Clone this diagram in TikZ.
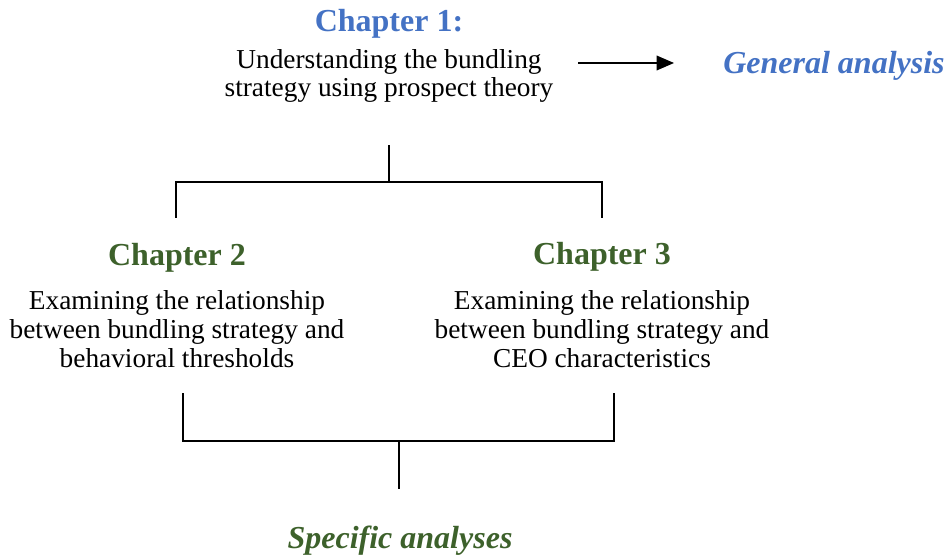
\documentclass[tikz,border=0pt]{standalone}
\usepackage{fontspec}
\setmainfont{Liberation Serif}
\usetikzlibrary{arrows.meta}
\definecolor{chblue}{HTML}{4472C4}
\definecolor{chgreen}{HTML}{3D612B}
\begin{document}
\begin{tikzpicture}[x=0.75pt,y=-0.75pt,
  head/.style={font=\fontsize{24}{28}\selectfont\bfseries, inner sep=0pt, anchor=base},
  body/.style={font=\fontsize{20.5}{21.6}\selectfont, align=center, inner sep=0pt, anchor=base},
  tag/.style={font=\fontsize{24}{28}\selectfont\bfseries\itshape, inner sep=0pt, anchor=base},
  thickline/.style={line width=1.6pt, line cap=rect},
  thinline/.style={line width=1pt},
]
\useasboundingbox (0,0) rectangle (944,559);
\node[head, text=chblue] (h1) at (389,32) {Chapter 1:};
\node[body] (b1) at (389,97) {Understanding the bundling\\strategy using prospect theory};
\node[tag, text=chblue] (gen) at (834,74) {General analysis};
\coordinate (a1) at (578,63);
\coordinate (a2) at (674,63);
\draw[thinline, -{Triangle[length=13pt, width=11pt]}] (a1) -- (a2);

\node[head, text=chgreen] (h2) at (177,266) {Chapter 2};
\node[body] (b2) at (177,367) {Examining the relationship\\between bundling strategy and\\behavioral thresholds};
\node[head, text=chgreen] (h3) at (602,265) {Chapter 3};
\node[body] (b3) at (602,367) {Examining the relationship\\between bundling strategy and\\CEO characteristics};

% top bracket
\coordinate (t0) at (389,146);
\coordinate (tm) at (389,182);
\coordinate (tl) at (176,182);
\coordinate (tr) at (602,182);
\coordinate (tlb) at (176,218);
\coordinate (trb) at (602,218);
\draw[thickline] (t0) -- (tm);
\draw[thickline, line cap=butt] (tlb) -- (tl) -- (tr) -- (trb);

% bottom bracket
\coordinate (bl) at (183,393);
\coordinate (blb) at (183,441);
\coordinate (br) at (614,393);
\coordinate (brb) at (614,441);
\coordinate (bm) at (399,441);
\coordinate (be) at (399,489);
\draw[thinline] (bl) -- (blb) -- (brb) -- (br);
\draw[line width=1.3pt] (bm) -- (be);

\node[tag, text=chgreen] (spec) at (400,548) {Specific analyses};
\end{tikzpicture}
\end{document}
